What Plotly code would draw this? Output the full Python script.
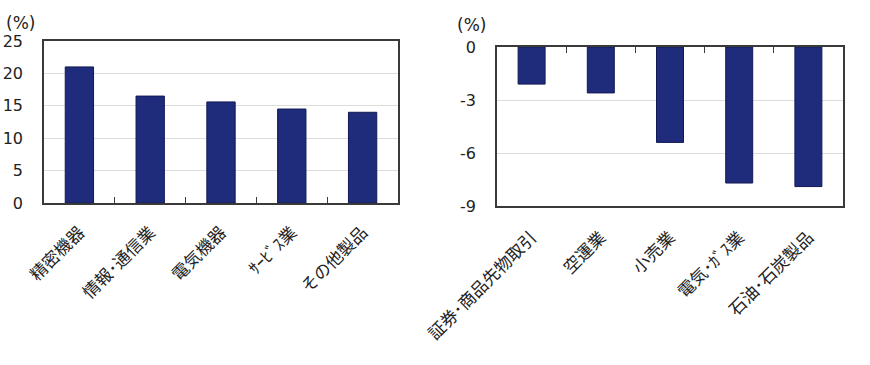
import plotly.graph_objects as go

W, H = 870, 365

# Data
cats_up = ["精密機器", "情報･通信業", "電気機器", "ｻｰﾋﾞｽ業", "その他製品"]
vals_up = [21.0, 16.5, 15.6, 14.5, 14.0]
cats_down = ["証券･商品先物取引", "空運業", "小売業", "電気･ｶﾞｽ業", "石油･石炭製品"]
vals_down = [-2.1, -2.6, -5.4, -7.7, -7.9]
yticks_up = [0, 5, 10, 15, 20, 25]
yticks_down = [0, -3, -6, -9]

BAR = "#1f2b7b"
EDGE = "#111a55"
FRAME = "#3a3a3a"
GRID = "#dcdcdc"
NUMFONT = dict(family="DejaVu Sans", size=16, color="#222")
CATFONT = dict(family="Noto Sans CJK JP", size=17, color="#222")

def px_x(a, b):
    return [a / W, b / W]

def px_y(top, bottom):
    return [1 - bottom / H, 1 - top / H]

fig = go.Figure()
fig.add_trace(go.Bar(x=cats_up, y=vals_up, width=0.4, marker=dict(color=BAR, line=dict(color=EDGE, width=1)),
                     xaxis="x", yaxis="y", showlegend=False))
fig.add_trace(go.Bar(x=cats_down, y=vals_down, width=0.39, marker=dict(color=BAR, line=dict(color=EDGE, width=1)),
                     xaxis="x2", yaxis="y2", showlegend=False))

n = len(cats_down)
fig.update_layout(
    width=W, height=H,
    margin=dict(l=0, r=0, t=0, b=0),
    paper_bgcolor="white", plot_bgcolor="white",
    xaxis=dict(domain=px_x(44, 398), anchor="y", type="category", automargin=False,
               showline=True, linecolor=FRAME, linewidth=1.5, mirror=True,
               ticks="inside", tickson="boundaries", ticklen=6, tickcolor=FRAME,
               tickangle=-45, tickfont=CATFONT, showgrid=False, ticklabelstandoff=11),
    yaxis=dict(domain=px_y(41, 203), anchor="x", range=[0, 25], tickvals=yticks_up,
               ticktext=[str(v) for v in yticks_up], automargin=False,
               showline=True, linecolor=FRAME, linewidth=1.5, mirror=True,
               ticks="", tickfont=NUMFONT, gridcolor=GRID, gridwidth=1,
               zeroline=False, ticklabelstandoff=16),
    xaxis2=dict(domain=px_x(497, 843), anchor="y2", type="category", automargin=False,
                showline=True, linecolor=FRAME, linewidth=1.5, mirror=True,
                ticks="", tickangle=-45, tickfont=CATFONT, showgrid=False, ticklabelstandoff=13),
    xaxis3=dict(overlaying="x2", anchor="y2", side="top", range=[-0.5, n - 0.5], automargin=False,
                tickvals=[i + 0.5 for i in range(n - 1)], ticks="inside", ticklen=6,
                tickcolor=FRAME, showticklabels=False, showline=False, showgrid=False,
                zeroline=False),
    yaxis2=dict(domain=px_y(47, 206), anchor="x2", range=[-9, 0], tickvals=yticks_down,
                ticktext=[str(v) for v in yticks_down], automargin=False,
                showline=True, linecolor=FRAME, linewidth=1.5, mirror=True,
                ticks="", tickfont=NUMFONT, gridcolor=GRID, gridwidth=1,
                zeroline=False, ticklabelstandoff=16),
    annotations=[
        dict(text="(%)", x=4 / W, y=1 - 11 / H, xref="paper", yref="paper",
             xanchor="left", yanchor="top", showarrow=False,
             font=dict(family="DejaVu Sans", size=17, color="#222")),
        dict(text="(%)", x=455 / W, y=1 - 13 / H, xref="paper", yref="paper",
             xanchor="left", yanchor="top", showarrow=False,
             font=dict(family="DejaVu Sans", size=17, color="#222")),
    ],
)
# invisible trace to activate xaxis3
fig.add_trace(go.Scatter(x=[0], y=[0], xaxis="x3", yaxis="y2", mode="markers",
                         marker=dict(opacity=0), showlegend=False, hoverinfo="skip"))

fig.write_html("out.html", config={"displayModeBar": False},
               post_script="document.body.style.margin='0';")
